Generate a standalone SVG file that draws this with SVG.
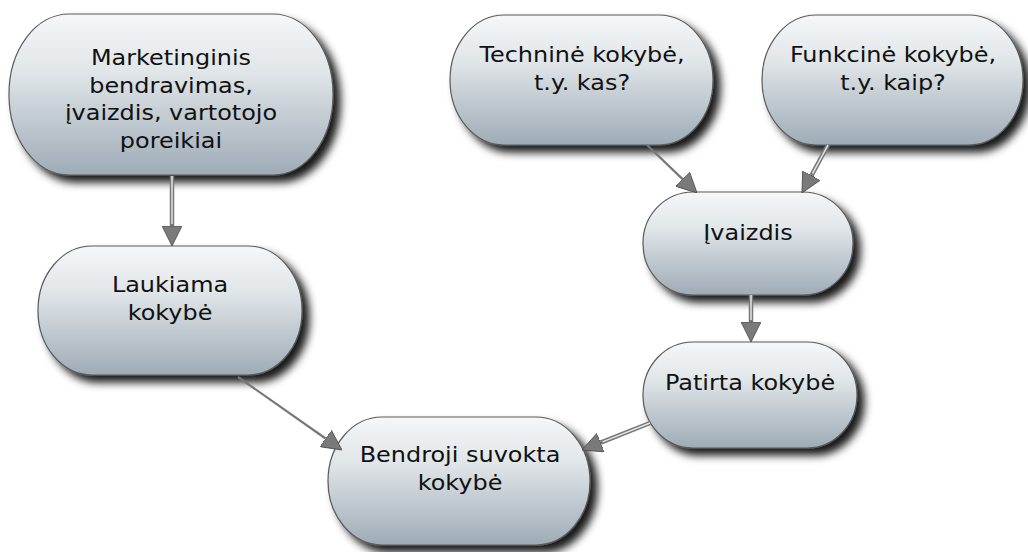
<svg xmlns="http://www.w3.org/2000/svg" width="1028" height="552" viewBox="0 0 1028 552">
<defs>
<linearGradient id="g" x1="0" y1="0" x2="0" y2="1">
<stop offset="0" stop-color="#f5f7f8"/>
<stop offset="0.35" stop-color="#e1e6e9"/>
<stop offset="1" stop-color="#9eabb6"/>
</linearGradient>
<filter id="sh" x="-20%" y="-20%" width="150%" height="160%">
<feDropShadow dx="7" dy="7" stdDeviation="4" flood-color="#000" flood-opacity="0.9"/>
</filter>
<marker id="ah" viewBox="0 0 20 20" refX="0" refY="10" markerWidth="20" markerHeight="20" markerUnits="userSpaceOnUse" orient="auto">
<path d="M0,0 L20,10 L0,20 z" fill="#7a7a7a" stroke="#4a4a4a" stroke-width="0.8"/>
</marker>
</defs>
<style>
.node{fill:url(#g);stroke:#5a5a5a;stroke-width:1.2;filter:url(#sh)}
.t{font-family:"DejaVu Sans",Verdana,sans-serif;font-size:21px;fill:#111;text-anchor:middle}
.c1{fill:none;stroke:#777;stroke-width:2.2}
.c2{fill:none;stroke:#777;stroke-width:4.5}
.c2i{fill:none;stroke:#e4e4e4;stroke-width:1.5}
</style>

<g id="n-marketing">
<rect class="node" x="9" y="14" width="324" height="161" rx="60" ry="80"/>
<g transform="translate(171 0) scale(1.14 1)">
<text class="t" x="0" y="65">Marketinginis</text>
<text class="t" x="0" y="93">bendravimas,</text>
<text class="t" x="0" y="120">įvaizdis, vartotojo</text>
<text class="t" x="0" y="148">poreikiai</text>
</g>
</g>

<g id="n-technine">
<rect class="node" x="450" y="15" width="263" height="130" rx="54" ry="65"/>
<g transform="translate(582 0) scale(1.14 1)">
<text class="t" x="0" y="62">Techninė kokybė,</text>
<text class="t" x="0" y="90">t.y. kas?</text>
</g>
</g>

<g id="n-funkcine">
<rect class="node" x="762" y="15" width="261" height="130" rx="54" ry="65"/>
<g transform="translate(893 0) scale(1.14 1)">
<text class="t" x="0" y="62">Funkcinė kokybė,</text>
<text class="t" x="0" y="90">t.y. kaip?</text>
</g>
</g>

<g id="n-laukiama">
<rect class="node" x="38" y="246" width="264" height="129" rx="54" ry="64"/>
<g transform="translate(170 0) scale(1.14 1)">
<text class="t" x="0" y="292">Laukiama</text>
<text class="t" x="0" y="320">kokybė</text>
</g>
</g>

<g id="n-ivaizdis">
<rect class="node" x="643" y="192" width="210" height="103" rx="50" ry="51"/>
<g transform="translate(748 0) scale(1.14 1)">
<text class="t" x="0" y="240">Įvaizdis</text>
</g>
</g>

<g id="n-patirta">
<rect class="node" x="643" y="342" width="214" height="106" rx="50" ry="53"/>
<g transform="translate(750 0) scale(1.14 1)">
<text class="t" x="0" y="390">Patirta kokybė</text>
</g>
</g>

<g id="n-bendroji">
<rect class="node" x="328" y="417" width="262" height="128" rx="54" ry="64"/>
<g transform="translate(460 0) scale(1.14 1)">
<text class="t" x="0" y="462">Bendroji suvokta</text>
<text class="t" x="0" y="490">kokybė</text>
</g>
</g>

<g id="connectors">
<path class="c2" d="M172,176 L172,226" marker-end="url(#ah)"/>
<path class="c2i" d="M172,176 L172,224"/>
<path class="c1" d="M647,145 L682.6,179.1" marker-end="url(#ah)"/>
<path class="c2" d="M828,145 L811.5,175.4" marker-end="url(#ah)"/>
<path class="c2i" d="M828,145 L812.5,173.6"/>
<path class="c2" d="M751,295 L751,322" marker-end="url(#ah)"/>
<path class="c2i" d="M751,295 L751,320"/>
<path class="c1" d="M238,377 L325.6,438.5" marker-end="url(#ah)"/>
<path class="c2" d="M650,423 L600.6,442.6" marker-end="url(#ah)"/>
<path class="c2i" d="M650,423 L602.5,441.9"/>
</g>
</svg>
